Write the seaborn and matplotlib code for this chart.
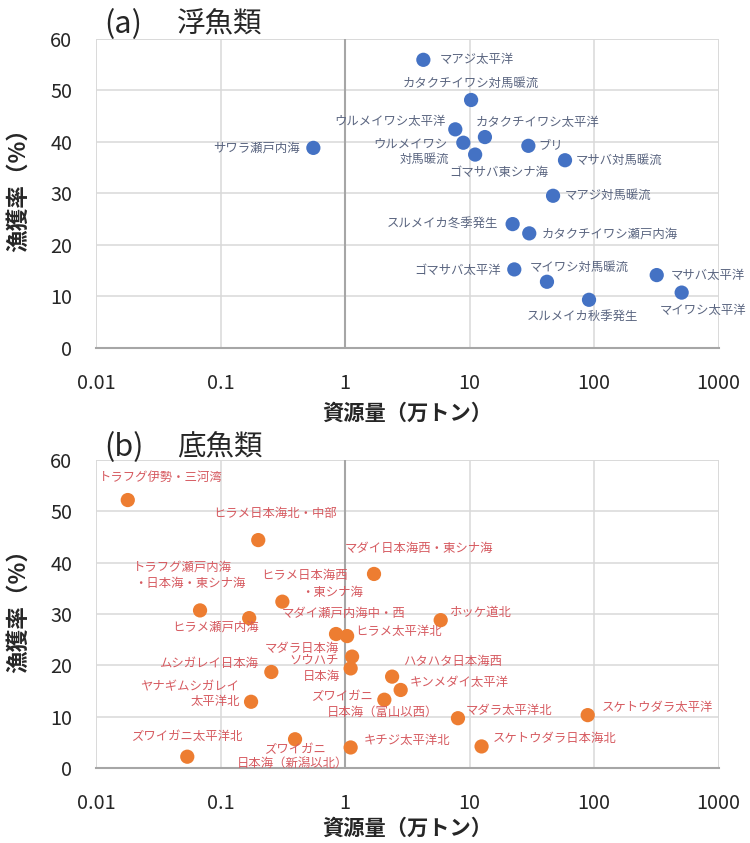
import matplotlib
matplotlib.use("Agg")
import matplotlib.pyplot as plt
import numpy as np
import pandas as pd
import seaborn as sns

# ---- data: stock biomass (10,000 t) and exploitation rate (%) ----
pelagic_names = [
    "マアジ太平洋", "カタクチイワシ対馬暖流", "ウルメイワシ太平洋", "カタクチイワシ太平洋",
    "ウルメイワシ\n対馬暖流", "ゴマサバ東シナ海", "ブリ", "マサバ対馬暖流", "マアジ対馬暖流",
    "サワラ瀬戸内海", "スルメイカ冬季発生", "カタクチイワシ瀬戸内海", "ゴマサバ太平洋",
    "マイワシ対馬暖流", "スルメイカ秋季発生", "マサバ太平洋", "マイワシ太平洋",
]
pelagic_stock = [4.26, 10.3, 7.69, 13.3, 8.92, 11.1, 29.7, 58.5, 46.9,
                 0.557, 22.2, 30.2, 22.9, 41.9, 91.2, 319, 506]
pelagic_rate = [55.9, 48.1, 42.4, 40.9, 39.8, 37.5, 39.2, 36.4, 29.5,
                38.8, 24.0, 22.2, 15.2, 12.8, 9.3, 14.1, 10.7]

demersal_names = [
    "トラフグ伊勢・三河湾", "ヒラメ日本海北・中部", "トラフグ瀬戸内海\n・日本海・東シナ海",
    "ヒラメ瀬戸内海", "ヒラメ日本海西\n・東シナ海", "マダイ日本海西・東シナ海",
    "マダイ瀬戸内海中・西", "ヒラメ太平洋北", "ホッケ道北", "マダラ日本海",
    "ソウハチ\n日本海", "ムシガレイ日本海", "ハタハタ日本海西", "キンメダイ太平洋",
    "ズワイガニ\n日本海（富山以西）", "ヤナギムシガレイ\n太平洋北", "マダラ太平洋北",
    "スケトウダラ太平洋", "スケトウダラ日本海北", "キチジ太平洋北",
    "ズワイガニ\n日本海（新潟以北）", "ズワイガニ太平洋北",
]
demersal_stock = [0.0180, 0.201, 0.0685, 0.170, 0.314, 1.71, 0.847, 1.04, 5.87,
                  1.14, 1.11, 0.256, 2.39, 2.80, 2.07, 0.176, 8.08, 89.0,
                  12.5, 1.11, 0.397, 0.0541]
demersal_rate = [52.2, 44.4, 30.7, 29.2, 32.4, 37.8, 26.1, 25.7, 28.8, 21.7,
                 19.4, 18.7, 17.8, 15.2, 13.3, 12.9, 9.7, 10.3, 4.2, 4.0,
                 5.6, 2.2]

x_ticks = [0.01, 0.1, 1, 10, 100, 1000]
x_ticklabels = ["0.01", "0.1", "1", "10", "100", "1000"]
y_ticks = [0, 10, 20, 30, 40, 50, 60]

# label placement per line: (dx px, dy px, horizontal alignment)
pelagic_place = {
    "マアジ太平洋": [(16, 0, "left")],
    "カタクチイワシ対馬暖流": [(0, 17, "center")],
    "ウルメイワシ太平洋": [(-10, 8, "right")],
    "カタクチイワシ太平洋": [(-9, 15, "left")],
    "ウルメイワシ\n対馬暖流": [(-16, -1, "right"), (-14, -17, "right")],
    "ゴマサバ東シナ海": [(24, -18, "center")],
    "ブリ": [(10, 0, "left")],
    "マサバ対馬暖流": [(11, 0, "left")],
    "マアジ対馬暖流": [(12, 0, "left")],
    "サワラ瀬戸内海": [(-14, 0, "right")],
    "スルメイカ冬季発生": [(-14, 0, "right")],
    "カタクチイワシ瀬戸内海": [(12, -1, "left")],
    "ゴマサバ太平洋": [(-13, -1, "right")],
    "マイワシ対馬暖流": [(-17, 14, "left")],
    "スルメイカ秋季発生": [(-7, -17, "center")],
    "マサバ太平洋": [(14, 0, "left")],
    "マイワシ太平洋": [(21, -18, "center")],
}
demersal_place = {
    "トラフグ伊勢・三河湾": [(-29, 23, "left")],
    "ヒラメ日本海北・中部": [(-45, 27, "left")],
    "トラフグ瀬戸内海\n・日本海・東シナ海": [(-67, 43, "left"), (-66, 27, "left")],
    "ヒラメ瀬戸内海": [(-34, -9, "center")],
    "ヒラメ日本海西\n・東シナ海": [(-21, 26, "left"), (19, 9, "left")],
    "マダイ日本海西・東シナ海": [(-29, 25, "left")],
    "マダイ瀬戸内海中・西": [(-54, 21, "left")],
    "ヒラメ太平洋北": [(8, 5, "left")],
    "ホッケ道北": [(9, 8, "left")],
    "マダラ日本海": [(-13, 8, "right")],
    "ソウハチ\n日本海": [(-12, 8, "right"), (-11, -8, "right")],
    "ムシガレイ日本海": [(-13, 9, "right")],
    "ハタハタ日本海西": [(11, 15, "left")],
    "キンメダイ太平洋": [(9, 8, "left")],
    "ズワイガニ\n日本海（富山以西）": [(-11, 3, "right"), (-58, -13, "left")],
    "ヤナギムシガレイ\n太平洋北": [(-12, 15, "right"), (-11, 0, "right")],
    "マダラ太平洋北": [(8, 8, "left")],
    "スケトウダラ太平洋": [(14, 8, "left")],
    "スケトウダラ日本海北": [(11, 8, "left")],
    "キチジ太平洋北": [(13, 7, "left")],
    "ズワイガニ\n日本海（新潟以北）": [(0, -10, "center"), (-3, -24, "center")],
    "ズワイガニ太平洋北": [(-1, 20, "center")],
}

sns.set_style("white")
plt.rcParams["font.family"] = ["Noto Sans CJK JP", "DejaVu Sans"]

W, H = 750, 843
fig = plt.figure(figsize=(W / 100, H / 100), dpi=100)

GRID = "#d9d9d9"
AXIS = "#a6a6a6"
TEXT = "#262626"


def draw_panel(rect, names, stock, rate, place, dot_color, label_color,
               tag, title, xlabel_y, title_y):
    ax = fig.add_axes(rect)
    df = pd.DataFrame({"stock": stock, "rate": rate, "name": names})
    sns.scatterplot(data=df, x="stock", y="rate", ax=ax, s=105,
                    color=dot_color, edgecolor="none", zorder=3, legend=False)
    ax.set_xscale("log")
    ax.set_xlim(0.01, 1000)
    ax.set_ylim(0, 60)
    ax.set_xticks(x_ticks)
    ax.set_xticklabels(x_ticklabels)
    ax.set_yticks(y_ticks)
    ax.minorticks_off()
    ax.tick_params(axis="both", length=0, labelsize=14.3, colors=TEXT)
    ax.tick_params(axis="x", pad=18)
    ax.tick_params(axis="y", pad=17)
    ax.grid(True, color=GRID, linewidth=1.1, zorder=0)
    for side in ("top", "right", "left"):
        ax.spines[side].set_visible(False)
    ax.spines["bottom"].set_color(AXIS)
    ax.spines["bottom"].set_linewidth(1.5)
    ax.spines["bottom"].set_zorder(2)
    ax.axvline(1, color=AXIS, linewidth=1.5, zorder=1)
    # frame edges drawn like gridlines
    ax.axvline(0.01, color=GRID, linewidth=1.1, zorder=0)
    ax.axvline(1000, color=GRID, linewidth=1.1, zorder=0)
    ax.axhline(60, color=GRID, linewidth=1.1, zorder=0)

    ax.set_xlabel("資源量（万トン）", fontsize=15.3, fontweight="bold", color=TEXT)
    ax.xaxis.set_label_coords(0.5, xlabel_y)
    ax.xaxis.label.set_va("center")
    ax.set_ylabel("漁獲率（%）", fontsize=16.3, fontweight="bold", color=TEXT)
    ax.yaxis.set_label_coords(-0.124, 0.527)
    ax.yaxis.label.set_va("center")

    for name, xv, yv in zip(names, stock, rate):
        for line, (dx, dy, ha) in zip(name.split("\n"), place[name]):
            ax.annotate(line, xy=(xv, yv), xytext=(dx, dy),
                        textcoords="offset pixels", ha=ha, va="center",
                        fontsize=8.9, color=label_color, zorder=4)

    ax.text(0.014, title_y, tag, transform=ax.transAxes, fontsize=22,
            color=TEXT, ha="left", va="center")
    ax.text(0.13, title_y, title, transform=ax.transAxes, fontsize=20.5,
            color=TEXT, ha="left", va="center")
    return ax


draw_panel([96 / W, 1 - 347.7 / H, 622.5 / W, 309 / H],
           pelagic_names, pelagic_stock, pelagic_rate, pelagic_place,
           "#4472C4", "#5a6580", "(a)", "浮魚類", -0.212, 1.047)
draw_panel([96 / W, 1 - 768 / H, 622.5 / W, 308 / H],
           demersal_names, demersal_stock, demersal_rate, demersal_place,
           "#ED7D31", "#d65a60", "(b)", "底魚類", -0.195, 1.042)

fig.savefig("out.png", dpi=100)
